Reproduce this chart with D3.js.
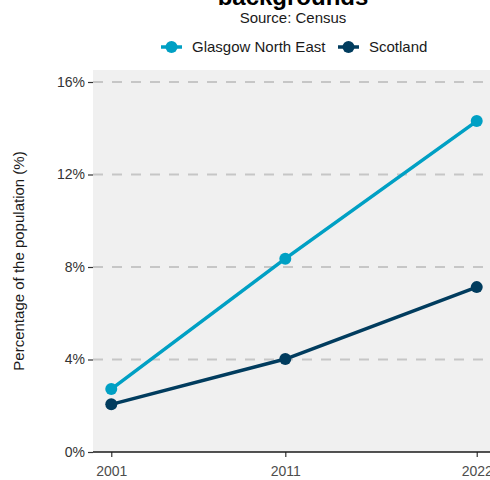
<!DOCTYPE html>
<html>
<head>
<meta charset="utf-8">
<script src="https://cdn.jsdelivr.net/npm/d3@7"></script>
<style>
  html, body { margin: 0; padding: 0; background: #ffffff; }
  svg { display: block; font-family: "Liberation Sans", Arial, Helvetica, sans-serif; }
</style>
</head>
<body>
<svg id="chart" width="490" height="480"></svg>
<script>
// Census years and share of the population for each area
const years = [2001, 2011, 2022];
const glasgowNorthEast = [2.72, 8.36, 14.31];
const scotland = [2.06, 4.02, 7.13];
const seriesNames = ["Glasgow North East", "Scotland"];
const seriesColors = ["#00a0c4", "#013c5e"];
const yTicks = [0, 4, 8, 12, 16];

const series = [
  { name: seriesNames[0], color: seriesColors[0], values: glasgowNorthEast },
  { name: seriesNames[1], color: seriesColors[1], values: scotland }
];

const svg = d3.select("#chart");

// Panel geometry
const panel = { left: 93, right: 495, top: 70, bottom: 452 };

const x = d3.scaleLinear()
  .domain([2001 - 1.05, 2022 + 1.05])
  .range([panel.left, panel.right]);

const y = d3.scaleLinear()
  .domain([0, 16])
  .range([panel.bottom, panel.bottom - 370]);

// Panel background
svg.append("rect")
  .attr("x", panel.left).attr("y", panel.top)
  .attr("width", panel.right - panel.left)
  .attr("height", panel.bottom - panel.top)
  .attr("fill", "#f0f0f0");

// Horizontal dashed gridlines
svg.append("g")
  .selectAll("line")
  .data(yTicks.filter(d => d > 0))
  .join("line")
  .attr("x1", panel.left).attr("x2", panel.right)
  .attr("y1", d => y(d)).attr("y2", d => y(d))
  .attr("stroke", "#c6c6c6")
  .attr("stroke-width", 2)
  .attr("stroke-dasharray", "10,9");

// Y axis
const yAxis = d3.axisLeft(y)
  .tickValues(yTicks)
  .tickFormat(d => d + "%")
  .tickSize(5)
  .tickPadding(3);

const yg = svg.append("g")
  .attr("transform", `translate(${panel.left},0)`)
  .call(yAxis);
yg.select(".domain").remove();
yg.selectAll(".tick line").attr("stroke", "#333333").attr("stroke-width", 1.2);
yg.selectAll(".tick text")
  .attr("fill", "#333333")
  .style("font-size", "14px")
  .style("font-family", "Liberation Sans, Arial, sans-serif");

// X axis
const xAxis = d3.axisBottom(x)
  .tickValues(years)
  .tickFormat(d3.format("d"))
  .tickSize(5)
  .tickPadding(9);

const xg = svg.append("g")
  .attr("transform", `translate(0,${panel.bottom})`)
  .call(xAxis);
xg.select(".domain").remove();
xg.selectAll(".tick line").attr("stroke", "#333333").attr("stroke-width", 1.2);
xg.selectAll(".tick text")
  .attr("fill", "#4d4d4d")
  .style("font-size", "14px")
  .style("font-family", "Liberation Sans, Arial, sans-serif");

// Baseline axis line
svg.append("line")
  .attr("x1", panel.left).attr("x2", panel.right)
  .attr("y1", panel.bottom).attr("y2", panel.bottom)
  .attr("stroke", "#1a1a1a")
  .attr("stroke-width", 1.5);

// Lines and points
const line = d3.line()
  .x((d, i) => x(years[i]))
  .y(d => y(d));

const sg = svg.append("g")
  .selectAll("g")
  .data(series)
  .join("g");

sg.append("path")
  .attr("d", d => line(d.values))
  .attr("fill", "none")
  .attr("stroke", d => d.color)
  .attr("stroke-width", 3.5)
  .attr("stroke-linejoin", "round");

sg.selectAll("circle")
  .data(d => d.values.map((v, i) => ({ v, i, color: d.color })))
  .join("circle")
  .attr("cx", d => x(years[d.i]))
  .attr("cy", d => y(d.v))
  .attr("r", 6)
  .attr("fill", d => d.color);

// Y axis title
svg.append("text")
  .attr("transform", `translate(24,${(panel.top + panel.bottom) / 2}) rotate(-90)`)
  .attr("text-anchor", "middle")
  .attr("fill", "#1a1a1a")
  .style("font-size", "15px")
  .text("Percentage of the population (%)");

// Title and subtitle
svg.append("text")
  .attr("x", 293).attr("y", 5)
  .attr("text-anchor", "middle")
  .attr("fill", "#000000")
  .style("font-size", "24px")
  .style("font-weight", "bold")
  .text("backgrounds");

svg.append("text")
  .attr("x", 293).attr("y", 23)
  .attr("text-anchor", "middle")
  .attr("fill", "#1a1a1a")
  .style("font-size", "15px")
  .text("Source: Census");

// Legend
const legendX = [161, 338];
const lg = svg.append("g")
  .selectAll("g")
  .data(series)
  .join("g")
  .attr("transform", (d, i) => `translate(${legendX[i]},47)`);

lg.append("line")
  .attr("x1", 0).attr("x2", 21)
  .attr("stroke", d => d.color)
  .attr("stroke-width", 3.5);

lg.append("circle")
  .attr("cx", 10.5).attr("r", 6)
  .attr("fill", d => d.color);

lg.append("text")
  .attr("x", 31).attr("y", 5)
  .attr("fill", "#1a1a1a")
  .style("font-size", "15px")
  .text(d => d.name);
</script>
</body>
</html>
